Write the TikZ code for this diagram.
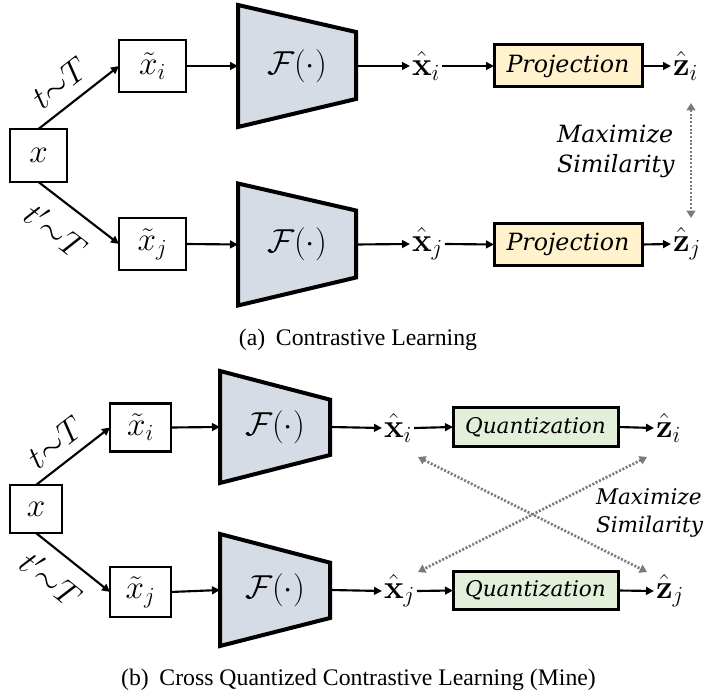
\documentclass[tikz,border=0pt]{standalone}
\usepackage[no-math]{fontspec}
\setmainfont{Liberation Serif}
\newfontfamily\wordfont{DejaVu Serif}
\usetikzlibrary{arrows.meta,calc}
\definecolor{encfill}{HTML}{D6DCE5}
\definecolor{projfill}{HTML}{FFF2CC}
\definecolor{quantfill}{HTML}{E2F0D9}
\definecolor{simgray}{HTML}{7A7A7A}
\begin{document}
\begin{tikzpicture}[x=0.75pt,y=-0.75pt,
  every node/.style={inner sep=0pt,outer sep=0pt},
  flow/.style={line width=1.6pt,-{Triangle[length=6pt,width=5.8pt]}},
  simarrow/.style={simgray,line width=2pt,dash pattern=on 1.5pt off 1.3pt,
    {Triangle[length=5.5pt,width=6.5pt]}-{Triangle[length=5.5pt,width=6.5pt]}},
  mathfont/.style={font=\fontsize{24}{28}\selectfont},
  inbox/.style={draw,line width=1.6pt,fill=white,mathfont},
  mathlabel/.style={mathfont,inner sep=1.5pt,anchor=west},
  auglabel/.style={mathfont,sloped,anchor=center},
  encslot/.style={mathfont},
  encoder/.style={draw,line width=3pt,fill=encfill,line join=miter},
  projbox/.style={draw,line width=2.25pt,fill=projfill,minimum width=111pt,minimum height=31.5pt,
    font=\wordfont\itshape\fontsize{17.8}{20}\selectfont},
  quantbox/.style={draw,line width=2.25pt,fill=quantfill,minimum width=123.75pt,minimum height=29pt,
    font=\wordfont\itshape\fontsize{16.2}{19}\selectfont},
  simtext/.style={font=\wordfont\itshape\fontsize{17.8}{22.5}\selectfont,align=left,anchor=west},
  captext/.style={font=\fontsize{17.8}{20}\selectfont}]
\useasboundingbox (0,0) rectangle (708,698);

% ---------------- (a) Contrastive Learning ----------------
\node[inbox,minimum width=42.75pt,minimum height=39.75pt] (xa) at (38.5,155.5) {$x$};
\node[inbox,minimum width=50.25pt,minimum height=39pt] (xia) at (152.5,66) {$\tilde{x}_i$};
\node[inbox,minimum width=50.25pt,minimum height=39pt] (xja) at (152.5,244) {$\tilde{x}_j$};

% encoders: trapezoids drawn on the frames of two empty slots
\node[encslot,minimum width=88.5pt,minimum height=91.5pt] (fa1) at (297,66) {};
\node[encslot,minimum width=88.5pt,minimum height=91.5pt] (fa2) at (297,244.5) {};
\foreach \enc in {fa1,fa2}{
  \draw[encoder] (\enc.north west) -- ([yshift=-20.25pt]\enc.north east)
    -- ([yshift=21pt]\enc.south east) -- (\enc.south west) -- cycle;
  \node[encslot] at (\enc.center) {$\mathcal{F}(\cdot)$};
}

\node[mathlabel] (xha) at (410,66) {$\hat{\mathbf{x}}_i$};
\node[mathlabel] (xhb) at (410,244) {$\hat{\mathbf{x}}_j$};
\node[projbox] (pa1) at (568,66) {Projection};
\node[projbox] (pa2) at (568,244.5) {Projection};
\node[mathlabel] (za) at (671,66) {$\hat{\mathbf{z}}_i$};
\node[mathlabel] (zb) at (671,244) {$\hat{\mathbf{z}}_j$};

\draw[flow] (xa.north) -- node[auglabel,pos=0.44,above=17.6pt,anchor=center] {$t{\sim}T$} (xia.west);
\draw[flow] (xa.south) -- node[auglabel,pos=0.43,below=21pt,anchor=center] {$t'{\sim}T$} (xja.west);
\draw[flow] (xia.east) -- (fa1.west);
\draw[flow] (xja.east) -- (fa2.west);
\draw[flow] (fa1.east) -- (xha.west);
\draw[flow] (fa2.east) -- (xhb.west);
\draw[flow] (xha.east) -- (pa1.west);
\draw[flow] (xhb.east) -- (pa2.west);
\draw[flow] (pa1.east) -- (za.west);
\draw[flow] (pa2.east) -- (zb.west);

\draw[simarrow] ([shift={(20,37)}]za.west) -- ([shift={(20,-26)}]zb.west);
\node[simtext] (sima) at (557,151) {Maximize\\Similarity};

\node[captext] (capa) at (358,340) {(a)\hspace{0.45em}Contrastive Learning};

% ---------------- (b) Cross Quantized Contrastive Learning ----------------
\node[inbox,minimum width=39pt,minimum height=36pt] (xbq) at (36,509) {$x$};
\node[inbox,minimum width=45.75pt,minimum height=36pt] (xib) at (140.5,427.5) {$\tilde{x}_i$};
\node[inbox,minimum width=45.75pt,minimum height=37pt] (xjb) at (140.5,592) {$\tilde{x}_j$};

\node[encslot,minimum width=82.5pt,minimum height=84pt] (fb1) at (275,427) {};
\node[encslot,minimum width=82.5pt,minimum height=84pt] (fb2) at (275,590) {};
\foreach \enc in {fb1,fb2}{
  \draw[encoder] (\enc.north west) -- ([yshift=-21.5pt]\enc.north east)
    -- ([yshift=21pt]\enc.south east) -- (\enc.south west) -- cycle;
  \node[encslot] at (\enc.center) {$\mathcal{F}(\cdot)$};
}

\node[mathlabel] (xhq1) at (382,428) {$\hat{\mathbf{x}}_i$};
\node[mathlabel] (xhq2) at (382,591) {$\hat{\mathbf{x}}_j$};
\node[quantbox] (qb1) at (535.5,427) {Quantization};
\node[quantbox] (qb2) at (535.5,590.5) {Quantization};
\node[mathlabel] (zq1) at (654,428) {$\hat{\mathbf{z}}_i$};
\node[mathlabel] (zq2) at (654,591) {$\hat{\mathbf{z}}_j$};

\draw[flow] (xbq.north) -- node[auglabel,pos=0.44,above=16.5pt,anchor=center] {$t{\sim}T$} (xib.west);
\draw[flow] (xbq.south) -- node[auglabel,pos=0.43,below=20pt,anchor=center] {$t'{\sim}T$} (xjb.west);
\draw[flow] (xib.east) -- (fb1.west);
\draw[flow] (xjb.east) -- (fb2.west);
\draw[flow] (fb1.east) -- (xhq1.west);
\draw[flow] (fb2.east) -- (xhq2.west);
\draw[flow] (xhq1.east) -- (qb1.west);
\draw[flow] (xhq2.east) -- (qb2.west);
\draw[flow] (qb1.east) -- (zq1.west);
\draw[flow] (qb2.east) -- (zq2.west);

\draw[simarrow] ([shift={(36,29)}]xhq1.west) -- ([shift={(-7,-19)}]zq2.west);
\draw[simarrow] ([shift={(-7,29)}]zq1.west) -- ([shift={(36,-19)}]xhq2.west);
\node[simtext,font=\wordfont\itshape\fontsize{16.2}{20.5}\selectfont] (simb) at (596,513) {Maximize\\Similarity};

\node[captext] (capb) at (358.5,680) {(b)\hspace{0.45em}Cross Quantized Contrastive Learning (Mine)};
\end{tikzpicture}
\end{document}
